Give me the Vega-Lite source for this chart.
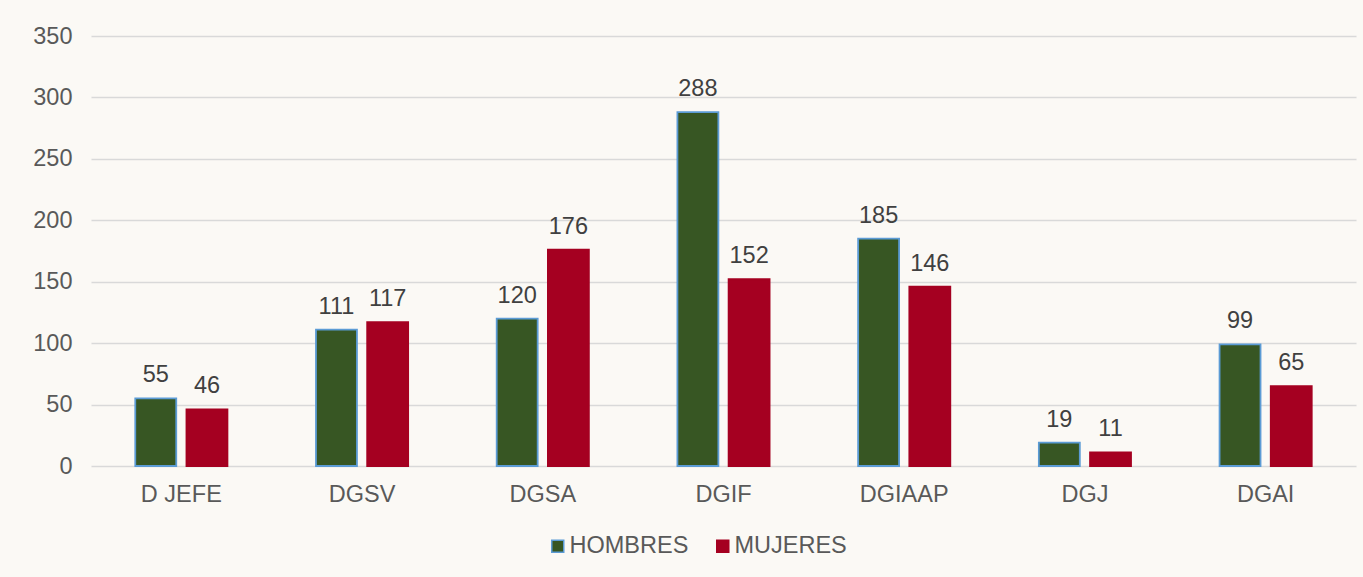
{
  "$schema": "https://vega.github.io/schema/vega-lite/v6.json",
  "autosize": {"type": "none"},
  "width": 1265,
  "height": 430,
  "padding": {"left": 91, "top": 36, "right": 7, "bottom": 111},
  "background": "#FBF9F5",
  "config": {
    "view": {"stroke": null},
    "font": "Liberation Sans",
    "axis": {"labelFont": "Liberation Sans", "labelFontSize": 23.5, "labelColor": "#595959", "title": null}
  },
  "data": {
    "values": [
      {"area": "D JEFE", "sexo": "HOMBRES", "n": 55},
      {"area": "D JEFE", "sexo": "MUJERES", "n": 46},
      {"area": "DGSV", "sexo": "HOMBRES", "n": 111},
      {"area": "DGSV", "sexo": "MUJERES", "n": 117},
      {"area": "DGSA", "sexo": "HOMBRES", "n": 120},
      {"area": "DGSA", "sexo": "MUJERES", "n": 176},
      {"area": "DGIF", "sexo": "HOMBRES", "n": 288},
      {"area": "DGIF", "sexo": "MUJERES", "n": 152},
      {"area": "DGIAAP", "sexo": "HOMBRES", "n": 185},
      {"area": "DGIAAP", "sexo": "MUJERES", "n": 146},
      {"area": "DGJ", "sexo": "HOMBRES", "n": 19},
      {"area": "DGJ", "sexo": "MUJERES", "n": 11},
      {"area": "DGAI", "sexo": "HOMBRES", "n": 99},
      {"area": "DGAI", "sexo": "MUJERES", "n": 65}
    ]
  },
  "encoding": {
    "x": {
      "field": "area", "type": "nominal", "sort": null,
      "scale": {"paddingInner": 0.49, "paddingOuter": 0.245},
      "axis": {"labelAngle": 0, "domain": false, "ticks": false, "tickSize": 0, "labelPadding": 16, "grid": false}
    },
    "xOffset": {
      "field": "sexo", "type": "nominal", "sort": ["HOMBRES", "MUJERES"],
      "scale": {"paddingInner": 0.2, "paddingOuter": 0}
    },
    "y": {
      "field": "n", "type": "quantitative",
      "scale": {"domain": [0, 350], "nice": false},
      "axis": {"values": [0, 50, 100, 150, 200, 250, 300, 350], "domain": false, "ticks": false, "tickSize": 0, "labelPadding": 19, "gridColor": "#D9D9D9", "gridWidth": 1.5}
    }
  },
  "layer": [
    {
      "mark": {"type": "bar", "strokeWidth": 1.8},
      "encoding": {
        "color": {
          "field": "sexo", "type": "nominal",
          "scale": {"domain": ["HOMBRES", "MUJERES"], "range": ["#375623", "#A50021"]},
          "legend": {
            "title": null, "orient": "none", "direction": "horizontal",
            "legendX": 455, "legendY": 498,
            "symbolType": "square", "symbolSize": 144, "symbolOpacity": 1,
            "labelFontSize": 23.5, "labelColor": "#595959", "labelFont": "Liberation Sans",
            "labelOffset": 0, "columnPadding": 22
          }
        },
        "stroke": {
          "field": "sexo", "type": "nominal",
          "scale": {"domain": ["HOMBRES", "MUJERES"], "range": ["#5B9BD5", "#A50021"]},
          "legend": null
        }
      }
    },
    {
      "mark": {"type": "text", "baseline": "alphabetic", "dy": -16, "fontSize": 23.5, "color": "#404040", "font": "Liberation Sans"},
      "encoding": {"text": {"field": "n", "type": "quantitative"}}
    }
  ]
}
